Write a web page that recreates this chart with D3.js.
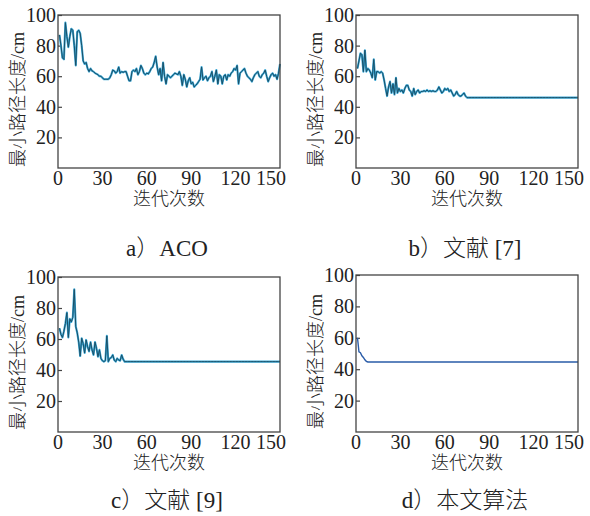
<!DOCTYPE html>
<html>
<head>
<meta charset="utf-8">
<script src="https://cdn.jsdelivr.net/npm/d3@7"></script>
<style>
  body { margin: 0; background: #fff; }
  svg text { font-family: "Liberation Serif", "Noto Sans CJK SC", serif; fill: #222; }
  svg text.cjk { font-weight: 300; }
</style>
</head>
<body>
<svg id="chart" width="590" height="516"></svg>
<script>
// iterations 1..150 for every series
var xTicks = [0, 30, 60, 90, 120, 150];
var yTicks = [20, 40, 60, 80, 100];

// a) ACO
var acoVals = [
  87, 80, 72, 71, 95, 86, 79, 86, 91, 90,
  80, 67, 89, 90, 88, 80, 70, 68, 69, 65,
  63, 65, 63.5, 63, 62, 61.5, 61, 60, 60, 59,
  58, 58, 58, 58, 59, 61, 64, 63.5, 62, 63,
  66, 62, 63, 62.5, 63, 63, 60, 57, 57, 63,
  64, 63, 65, 61, 63, 67, 65, 62, 61, 62,
  61.5, 63, 65, 66, 69, 73, 66, 61, 65, 57,
  69, 60, 55, 61, 60, 59, 60, 61, 62, 61.5,
  61, 63, 60, 54, 61, 58, 53, 57, 59, 55,
  56, 53, 54, 55, 56.5, 58, 66, 57.5, 59, 60,
  57, 59, 60, 63, 56.5, 60, 64, 55, 61, 60,
  55, 60, 61, 57.5, 61, 60, 62, 63, 65, 64,
  67, 55, 62, 63, 64, 65, 62, 60, 59, 58,
  56.5, 59, 61, 62, 63, 60, 59, 61, 62, 64,
  60, 56.5, 59, 61, 62, 60, 61, 58, 62, 68
];

// b) 文献 [7]
var ref7Vals = [
  65, 70, 75, 74, 63, 77, 63, 65, 64, 62,
  59, 71, 57.5, 63, 63, 62, 63, 62, 57.5, 52,
  47, 53, 56.5, 49, 55, 48, 59, 49, 52, 50,
  51, 49, 52, 54, 54, 51, 50, 47, 52, 48,
  50, 51, 49, 50, 50, 50.5, 50, 51, 50, 50.5,
  50, 50.5, 50, 50, 51, 53, 51, 49, 50, 52,
  51, 52, 50, 51, 49, 47, 48, 50, 48, 47,
  47, 48, 49, 47, 46, 46, 46, 46, 46, 46,
  46, 46, 46, 46, 46, 46, 46, 46, 46, 46,
  46, 46, 46, 46, 46, 46, 46, 46, 46, 46,
  46, 46, 46, 46, 46, 46, 46, 46, 46, 46,
  46, 46, 46, 46, 46, 46, 46, 46, 46, 46,
  46, 46, 46, 46, 46, 46, 46, 46, 46, 46,
  46, 46, 46, 46, 46, 46, 46, 46, 46, 46,
  46, 46, 46, 46, 46, 46, 46, 46, 46, 46
];

// c) 文献 [9]
var ref9Vals = [
  67, 63, 61, 65, 70, 77, 61, 73, 71, 74,
  92, 68, 64, 58, 49, 60.5, 57, 51, 59.4, 55,
  52, 58, 53, 49.7, 58, 54, 48.6, 53, 47.5, 46,
  45.4, 46, 62, 45.4, 47.5, 48, 49.7, 46.4, 45.4, 47.5,
  46.4, 46, 49.7, 47, 45.4, 45.4, 45.4, 45.4, 45.4, 45.4,
  45.4, 45.4, 45.4, 45.4, 45.4, 45.4, 45.4, 45.4, 45.4, 45.4,
  45.4, 45.4, 45.4, 45.4, 45.4, 45.4, 45.4, 45.4, 45.4, 45.4,
  45.4, 45.4, 45.4, 45.4, 45.4, 45.4, 45.4, 45.4, 45.4, 45.4,
  45.4, 45.4, 45.4, 45.4, 45.4, 45.4, 45.4, 45.4, 45.4, 45.4,
  45.4, 45.4, 45.4, 45.4, 45.4, 45.4, 45.4, 45.4, 45.4, 45.4,
  45.4, 45.4, 45.4, 45.4, 45.4, 45.4, 45.4, 45.4, 45.4, 45.4,
  45.4, 45.4, 45.4, 45.4, 45.4, 45.4, 45.4, 45.4, 45.4, 45.4,
  45.4, 45.4, 45.4, 45.4, 45.4, 45.4, 45.4, 45.4, 45.4, 45.4,
  45.4, 45.4, 45.4, 45.4, 45.4, 45.4, 45.4, 45.4, 45.4, 45.4,
  45.4, 45.4, 45.4, 45.4, 45.4, 45.4, 45.4, 45.4, 45.4, 45.4
];

// d) 本文算法
var oursVals = [
  60, 51, 50.5, 48.5, 47.5, 46, 45, 44.6, 44.6, 44.6,
  44.6, 44.6, 44.6, 44.6, 44.6, 44.6, 44.6, 44.6, 44.6, 44.6,
  44.6, 44.6, 44.6, 44.6, 44.6, 44.6, 44.6, 44.6, 44.6, 44.6,
  44.6, 44.6, 44.6, 44.6, 44.6, 44.6, 44.6, 44.6, 44.6, 44.6,
  44.6, 44.6, 44.6, 44.6, 44.6, 44.6, 44.6, 44.6, 44.6, 44.6,
  44.6, 44.6, 44.6, 44.6, 44.6, 44.6, 44.6, 44.6, 44.6, 44.6,
  44.6, 44.6, 44.6, 44.6, 44.6, 44.6, 44.6, 44.6, 44.6, 44.6,
  44.6, 44.6, 44.6, 44.6, 44.6, 44.6, 44.6, 44.6, 44.6, 44.6,
  44.6, 44.6, 44.6, 44.6, 44.6, 44.6, 44.6, 44.6, 44.6, 44.6,
  44.6, 44.6, 44.6, 44.6, 44.6, 44.6, 44.6, 44.6, 44.6, 44.6,
  44.6, 44.6, 44.6, 44.6, 44.6, 44.6, 44.6, 44.6, 44.6, 44.6,
  44.6, 44.6, 44.6, 44.6, 44.6, 44.6, 44.6, 44.6, 44.6, 44.6,
  44.6, 44.6, 44.6, 44.6, 44.6, 44.6, 44.6, 44.6, 44.6, 44.6,
  44.6, 44.6, 44.6, 44.6, 44.6, 44.6, 44.6, 44.6, 44.6, 44.6,
  44.6, 44.6, 44.6, 44.6, 44.6, 44.6, 44.6, 44.6, 44.6, 44.6
];

var captions = ["a\uFF09ACO", "b\uFF09文献 [7]", "c\uFF09文献 [9]", "d\uFF09本文算法"];
var yTitle = "最小路径长度/cm";
var xTitle = "迭代次数";

var svg = d3.select("#chart");

// panel boxes in page pixels
var panels = [
  {vals: acoVals,  cap: captions[0], x0: 58,  x1: 280, y0: 15,  y1: 168, capY: 256, single: false},
  {vals: ref7Vals, cap: captions[1], x0: 356, x1: 578, y0: 15,  y1: 168, capY: 256, single: false},
  {vals: ref9Vals, cap: captions[2], x0: 58,  x1: 280, y0: 277, y1: 432, capY: 508, single: false},
  {vals: oursVals, cap: captions[3], x0: 356, x1: 578, y0: 275, y1: 432, capY: 508, single: true}
];

panels.forEach(function(p) {
  var x = d3.scaleLinear().domain([0, 150]).range([p.x0, p.x1]);
  var y = d3.scaleLinear().domain([0, 100]).range([p.y1, p.y0]);
  var g = svg.append("g");

  // y ticks, pointing inward
  var yAxis = d3.axisRight(y).tickValues(yTicks).tickSize(4).tickFormat("");
  g.append("g").attr("transform", "translate(" + p.x0 + ",0)").call(yAxis)
    .call(function(s) { s.select(".domain").remove(); })
    .selectAll("line").attr("stroke", "#444").attr("stroke-width", 1.2);

  g.selectAll(".ylab").data(yTicks).enter().append("text")
    .attr("x", p.x0 - 2)
    .attr("y", function(d) { return y(d) + 7; })
    .attr("text-anchor", "end")
    .attr("font-size", 20)
    .text(function(d) { return d; });

  g.selectAll(".xlab").data(xTicks).enter().append("text")
    .attr("x", function(d) { return d === 150 ? x(d) + 6 : x(d); })
    .attr("y", p.y1 + 17)
    .attr("text-anchor", function(d) { return d === 150 ? "end" : "middle"; })
    .attr("font-size", 20)
    .text(function(d) { return d; });

  var line = d3.line()
    .x(function(d, i) { return x(i + 1); })
    .y(function(d) { return y(d); });

  if (p.single) {
    g.append("path").datum(p.vals).attr("d", line)
      .attr("fill", "none").attr("stroke", "#2a5ca8").attr("stroke-width", 1.4);
  } else {
    g.append("path").datum(p.vals).attr("d", line)
      .attr("fill", "none").attr("stroke", "#3aa6d4").attr("stroke-width", 2.1)
      .attr("stroke-linejoin", "round");
    g.append("path").datum(p.vals).attr("d", line)
      .attr("fill", "none").attr("stroke", "#1a5068").attr("stroke-width", 1)
      .attr("stroke-linejoin", "round");
  }

  // frame
  g.append("rect")
    .attr("x", p.x0).attr("y", p.y0)
    .attr("width", p.x1 - p.x0).attr("height", p.y1 - p.y0)
    .attr("fill", "none").attr("stroke", "#444").attr("stroke-width", 1.3);

  var cx = (p.x0 + p.x1) / 2;
  g.append("text").attr("class", "cjk")
    .attr("transform", "translate(" + (p.x0 - 40) + "," + ((p.y0 + p.y1) / 2 + 8) + ") rotate(-90)")
    .attr("text-anchor", "middle")
    .attr("dy", "0.35em")
    .attr("font-size", 18)
    .text(yTitle);

  g.append("text").attr("class", "cjk")
    .attr("x", cx).attr("y", p.y1 + 37)
    .attr("text-anchor", "middle")
    .attr("font-size", 18)
    .text(xTitle);

  g.append("text").attr("class", "cjk")
    .attr("x", cx - 2).attr("y", p.capY)
    .attr("text-anchor", "middle")
    .attr("font-size", 23)
    .text(p.cap);
});
</script>
</body>
</html>
